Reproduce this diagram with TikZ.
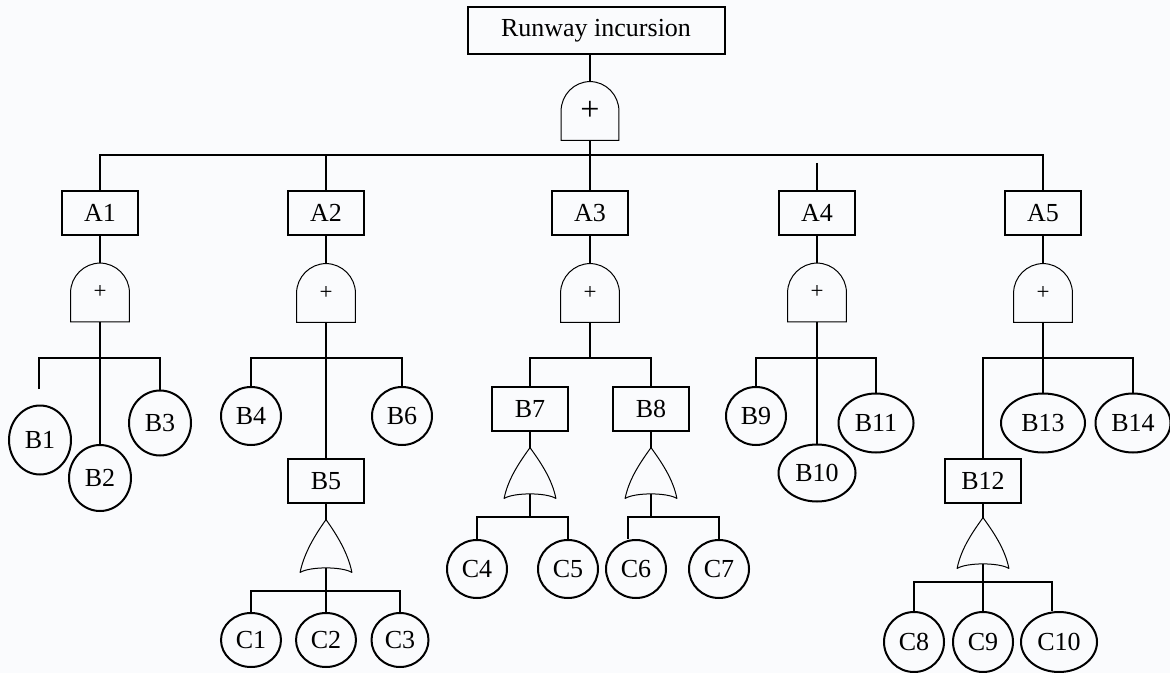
\documentclass[tikz,border=0pt]{standalone}
\usepackage{fontspec}
\setmainfont{Liberation Serif}
\usetikzlibrary{shapes}
\definecolor{paper}{RGB}{250,251,253}

\begin{document}
\begin{tikzpicture}
            [x=0.5pt, y=-0.5pt, font=\fontsize{13}{15}\selectfont,
            wire/.style={draw=black, line width=1pt},
            event/.style={rectangle, draw=black, line width=1pt, inner sep=0pt,
            minimum width=38pt, minimum height=22pt},
            basic/.style={ellipse, draw=black, line width=1pt, inner sep=0pt,
            minimum width=30pt, minimum height=29pt},
            wide/.style={basic, minimum width=37.5pt, minimum height=29.5pt},
            andgate/.style={rectangle, inner sep=0pt, minimum width=29pt,
            minimum height=29pt, font=\fontsize{11.5}{12}\selectfont},
            orgate/.style={rectangle, inner sep=0pt, minimum width=25.5pt,
            minimum height=26pt},
            outline/.style={draw=black, line width=0.5pt}]
            \fill[paper] (0,0) rectangle (1170,673);
            \useasboundingbox (0,0) rectangle (1170,673);

            % top event
            \node[event, minimum width=128.5pt, minimum height=23.5pt] (top) at (596,31) {Runway incursion};
            \node[andgate, minimum width=28.5pt, font=\fontsize{17}{18}\selectfont] (g0) at (590,111) {+};

            % intermediate events
            \node[event] (a1) at (100,213) {A1};
            \node[event] (a2) at (326,213) {A2};
            \node[event] (a3) at (590,213) {A3};
            \node[event] (a4) at (817,213) {A4};
            \node[event] (a5) at (1043,213) {A5};
            \node[andgate] (g1) at (100,292.5) {+};
            \node[andgate] (g2) at (326,293) {+};
            \node[andgate] (g3) at (590,293) {+};
            \node[andgate] (g4) at (817,292.5) {+};
            \node[andgate] (g5) at (1043,293) {+};

            % second level
            \node[basic, minimum width=31pt, minimum height=34.5pt] (b1) at (40,440) {B1};
            \node[basic, minimum width=31pt, minimum height=33pt] (b2) at (100,478) {B2};
            \node[basic, minimum width=31pt, minimum height=32.5pt] (b3) at (160,423) {B3};
            \node[basic] (b4) at (251,416) {B4};
            \node[event] (b5) at (326,481) {B5};
            \node[basic] (b6) at (402,416) {B6};
            \node[event] (b7) at (530,409) {B7};
            \node[event] (b8) at (651,409) {B8};
            \node[basic] (b9) at (756,416) {B9};
            \node[wide, minimum width=38.5pt, minimum height=28.5pt] (b10) at (817,473) {B10};
            \node[wide] (b11) at (876,423) {B11};
            \node[event] (b12) at (983,481) {B12};
            \node[wide, minimum width=42pt] (b13) at (1043,423) {B13};
            \node[wide] (b14) at (1133,423) {B14};
            \node[orgate] (o5) at (326,546) {};
            \node[orgate, minimum height=25pt] (o7) at (530,473) {};
            \node[orgate, minimum height=25pt] (o8) at (651,473) {};
            \node[orgate, minimum height=25pt] (o12) at (983,543) {};

            % basic events
            \node[basic, minimum height=27pt] (c1) at (251,640) {C1};
            \node[basic, minimum height=27pt] (c2) at (326,640) {C2};
            \node[basic, minimum width=28.5pt, minimum height=27pt] (c3) at (400,640) {C3};
            \node[basic] (c4) at (477,569) {C4};
            \node[basic] (c5) at (568,569) {C5};
            \node[basic] (c6) at (636,569) {C6};
            \node[basic] (c7) at (719,569) {C7};
            \node[basic, minimum height=30pt] (c8) at (914,642) {C8};
            \node[basic, minimum height=30pt] (c9) at (983,642) {C9};
            \node[wide, minimum width=38pt, minimum height=30pt] (c10) at (1059,642) {C10};

            % gate outlines
            \foreach \g in {g0,g1,g2,g3,g4,g5}
                \draw[outline] (\g.south west) -- (\g.west)
                    .. controls +(0,-16) and +(-16,0) .. (\g.north)
                    .. controls +(16,0) and +(0,-16) .. (\g.east)
                    -- (\g.south east) -- cycle;
            \foreach \g in {o5,o7,o8,o12}
                \draw[outline, line join=round] (\g.north)
                    .. controls +(-10,14) and +(4,-20) .. (\g.south west)
                    .. controls +(10,-6) and +(-10,-6) .. (\g.south east)
                    .. controls +(-4,-20) and +(10,14) .. (\g.north);

            % top level connectors
            \draw[wire] (g0.north |- top.south) -- (g0.north);
            \draw[wire] (g0.south) -- (a3.north);
            \coordinate (bus0) at (590,155);
            \coordinate (a4end) at (817,163);
            \draw[wire] (a1.north) |- (bus0) -| (a5.north);
            \draw[wire] (a2.north) -- (a2.north |- bus0);
            \draw[wire] (a4end) -- (a4.north);
            \foreach \i in {1,...,5}
                \draw[wire] (a\i.south) -- (g\i.north);

            % A branches
            \coordinate (bus1) at (100,358);
            \coordinate (b1end) at (39,389);
            \draw[wire] (b1end) |- (bus1) -| (b3.north);
            \draw[wire] (g1.south) -- (b2.north);
            \coordinate (bus2) at (326,358);
            \draw[wire] (b4.north) |- (bus2) -| (b6.north);
            \draw[wire] (g2.south) -- (b5.north);
            \coordinate (bus3) at (590,358);
            \draw[wire] (b7.north) |- (bus3) -| (b8.north);
            \draw[wire] (g3.south) -- (bus3);
            \coordinate (bus4) at (817,358);
            \draw[wire] (b9.north) |- (bus4) -| (b11.north);
            \draw[wire] (g4.south) -- (b10.north);
            \coordinate (bus5) at (1043,358);
            \draw[wire] (b12.north) |- (bus5) -| (b14.north);
            \draw[wire] (g5.south) -- (b13.north);

            % B branches
            \foreach \b/\o in {b5/o5,b7/o7,b8/o8,b12/o12}
                \draw[wire] (\b.south) -- (\o.north);
            \coordinate (bus6) at (326,591);
            \draw[wire] (c1.north) |- (bus6) -| (c3.north);
            \draw[wire] ([yshift=2.25pt]o5.south) -- (c2.north);
            \coordinate (bus7) at (530,517);
            \draw[wire] (c4.north) |- (bus7) -| (c5.north);
            \draw[wire] ([yshift=2.25pt]o7.south) -- (bus7);
            \coordinate (bus8) at (651,517);
            \draw[wire] ([xshift=-4pt]c6.north) |- (bus8) -| (c7.north);
            \draw[wire] ([yshift=2.25pt]o8.south) -- (bus8);
            \coordinate (bus9) at (983,582);
            \draw[wire] (c8.north) |- (bus9) -| ([xshift=-3.5pt]c10.north);
            \draw[wire] ([yshift=2.25pt]o12.south) -- (c9.north);
            \end{tikzpicture}
\end{document}
